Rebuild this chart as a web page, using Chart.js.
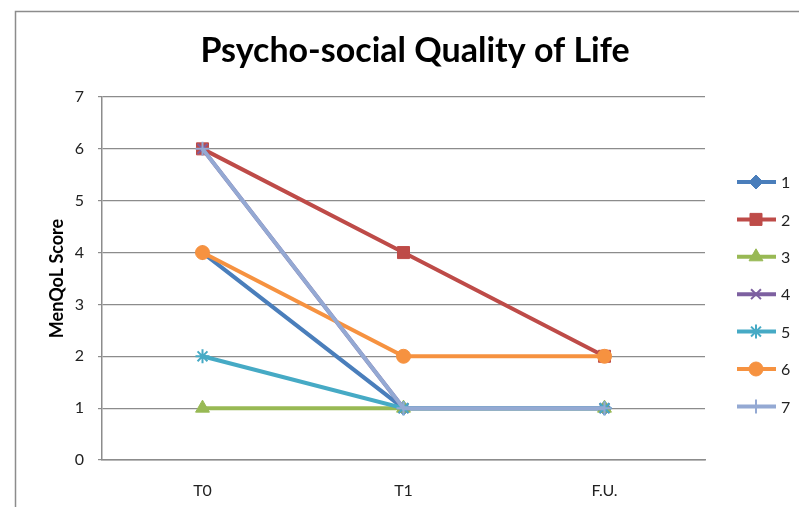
<!DOCTYPE html>
<html>
<head>
<meta charset="utf-8">
<script src="https://cdn.jsdelivr.net/npm/chart.js@4"></script>
<style>
  html, body { margin: 0; padding: 0; background: #fff; }
  #wrap { width: 799px; height: 507px; }
</style>
</head>
<body>
<div id="wrap"><canvas id="qolChart" width="799" height="507"></canvas></div>
<script>
const timepoints = ["T0", "T1", "F.U."];
const seriesNames = ["1", "2", "3", "4", "5", "6", "7"];

const p1 = [4, 1, 1];
const p2 = [6, 4, 2];
const p3 = [1, 1, 1];
const p4 = [6, 1, 1];
const p5 = [2, 1, 1];
const p6 = [4, 2, 2];
const p7 = [6, 1, 1];

const seriesValues = [p1, p2, p3, p4, p5, p6, p7];
const colors = ["#4a7ebb", "#be4b48", "#98b954", "#7d60a0", "#46aac5", "#f69240", "#94a9d3"];
const markers = ["rectRot", "rect", "triangle", "crossRot", "star", "circle", "cross"];
const markerSize = [7, 8.5, 8, 7, 7, 7, 7];

const yTicks = [0, 1, 2, 3, 4, 5, 6, 7];

const FONT = "Lato, 'Open Sans', sans-serif";
const isLineMarker = m => m === "crossRot" || m === "star" || m === "cross";

const datasets = seriesValues.map((vals, i) => ({
  label: seriesNames[i],
  data: vals,
  borderColor: colors[i],
  backgroundColor: colors[i],
  pointBackgroundColor: colors[i],
  pointBorderColor: colors[i],
  pointBorderWidth: isLineMarker(markers[i]) ? 2 : 1,
  borderWidth: 4,
  pointStyle: markers[i],
  pointRadius: markerSize[i],
  tension: 0,
  order: seriesValues.length - i
}));

// frame, title and the line+marker legend on the right
const decorations = {
  id: "decorations",
  beforeDraw(chart) {
    const ctx = chart.ctx;
    ctx.save();
    ctx.fillStyle = "#fff";
    ctx.fillRect(0, 0, chart.width, chart.height);
    ctx.strokeStyle = "#8c8c8c";
    ctx.lineWidth = 1.5;
    ctx.beginPath();
    ctx.moveTo(15.5, chart.height);
    ctx.lineTo(15.5, 11.5);
    ctx.lineTo(chart.width, 11.5);
    ctx.stroke();

    ctx.fillStyle = "#000";
    ctx.font = "bold 34px " + FONT;
    ctx.textAlign = "center";
    ctx.textBaseline = "middle";
    ctx.fillText("Psycho-social Quality of Life", 415, 51);
    ctx.restore();
  },
  afterDraw(chart) {
    const ctx = chart.ctx;
    ctx.save();
    chart.data.datasets.forEach((ds, i) => {
      const y = 182 + i * 37.4;
      ctx.strokeStyle = ds.borderColor;
      ctx.lineWidth = 4;
      ctx.beginPath();
      ctx.moveTo(737, y);
      ctx.lineTo(776, y);
      ctx.stroke();
      ctx.fillStyle = ds.backgroundColor;
      ctx.lineWidth = ds.pointBorderWidth;
      Chart.helpers.drawPoint(ctx, {
        pointStyle: ds.pointStyle,
        radius: ds.pointRadius,
        borderWidth: ds.pointBorderWidth,
        rotation: 0
      }, 756, y);
      ctx.fillStyle = "#222";
      ctx.font = "16px " + FONT;
      ctx.textAlign = "left";
      ctx.textBaseline = "middle";
      ctx.fillText(ds.label, 781, y + 1);
    });
    ctx.restore();
  }
};

new Chart(document.getElementById("qolChart"), {
  type: "line",
  data: { labels: timepoints, datasets: datasets },
  options: {
    responsive: false,
    animation: false,
    layout: { padding: { top: 97, right: 94, bottom: 0, left: 17 } },
    plugins: {
      legend: { display: false },
      title: { display: false },
      tooltip: { enabled: false }
    },
    scales: {
      x: {
        offset: true,
        grid: { display: false, drawTicks: false },
        border: { display: true, color: "#8c8c8c", width: 1.5 },
        ticks: { color: "#222", font: { family: FONT, size: 16 }, padding: 21 },
        afterFit(scale) { scale.height = 47; }
      },
      y: {
        min: 0,
        max: 7,
        afterBuildTicks(scale) { scale.ticks = yTicks.map(v => ({ value: v })); },
        grid: { color: "#8c8c8c", lineWidth: 1.2, tickLength: 4 },
        border: { display: true, color: "#8c8c8c", width: 1.5 },
        ticks: { color: "#222", font: { family: FONT, size: 16 }, padding: 14 },
        title: {
          display: true,
          text: "MenQoL Score",
          color: "#000",
          font: { family: FONT, size: 18, weight: "bold" },
          padding: { top: 29, bottom: 0 }
        },
        afterFit(scale) { scale.width = 85; }
      }
    }
  },
  plugins: [decorations]
});
</script>
</body>
</html>
